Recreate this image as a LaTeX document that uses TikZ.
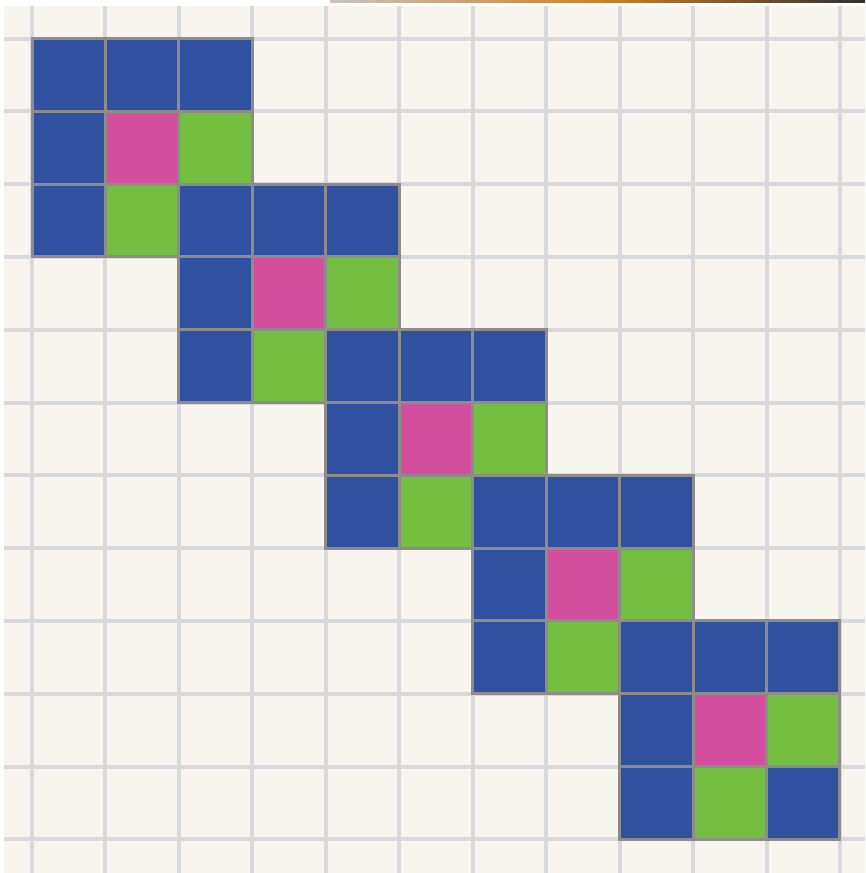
\documentclass[tikz,border=0pt]{standalone}
\definecolor{bg}{HTML}{F8F4EE}
\definecolor{gridc}{HTML}{D9D8DC}
\definecolor{cblue}{HTML}{3050A0}
\definecolor{cpink}{HTML}{D44E9E}
\definecolor{cgreen}{HTML}{74BF42}
\definecolor{edgec}{HTML}{8E8C8A}
\definecolor{barA}{HTML}{C8C4C0}
\definecolor{barB}{HTML}{D0802C}
\definecolor{barC}{HTML}{303030}
\newcommand{\gx}[1]{{32+73.45*(#1)}}
\newcommand{\gy}[1]{{38.5+72.8*(#1)}}
\newcommand{\mycell}[3]{\draw[cellbox, fill=#3] ({32+73.45*(#1)},{38.5+72.8*(#2)}) rectangle ++(73.45,72.8);}
\begin{document}
\begin{tikzpicture}[x=1pt,y=-1pt,
  gridline/.style={gridc, line width=4pt},
  cellbox/.style={draw=edgec, line width=3pt}]
\useasboundingbox (0,0) rectangle (865,873);
\fill[white] (0,0) rectangle (865,873);
\fill[bg] (4,6) rectangle (865,873);
\shade[left color=barA, right color=barC, middle color=barB] (330,0) rectangle (865,2.5);
\foreach \i in {0,...,11} {
  \draw[gridline] ({32+73.45*\i},6) -- ({32+73.45*\i},873);
  \draw[gridline] (4,{38.5+72.8*\i}) -- (865,{38.5+72.8*\i});
}
\foreach \k in {0,...,4} {
  \pgfmathtruncatemacro{\a}{2*\k}
  \pgfmathtruncatemacro{\b}{2*\k+1}
  \pgfmathtruncatemacro{\c}{2*\k+2}
  \mycell{\a}{\a}{cblue}
  \mycell{\b}{\a}{cblue}
  \mycell{\c}{\a}{cblue}
  \mycell{\a}{\b}{cblue}
  \mycell{\b}{\b}{cpink}
  \mycell{\c}{\b}{cgreen}
  \mycell{\a}{\c}{cblue}
  \mycell{\b}{\c}{cgreen}
  \mycell{\c}{\c}{cblue}
}
\end{tikzpicture}
\end{document}
